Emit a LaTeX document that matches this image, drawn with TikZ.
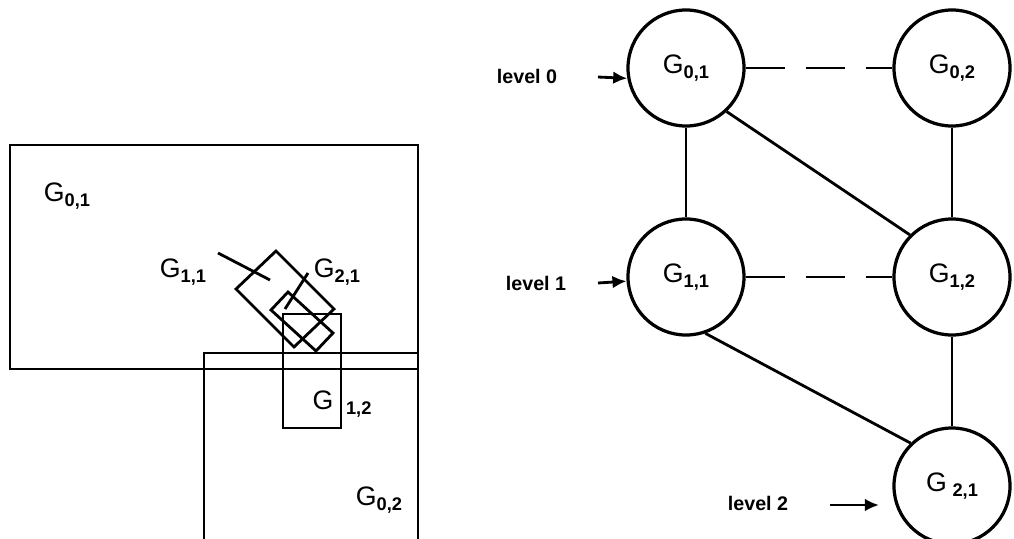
\documentclass[tikz,border=0pt]{standalone}
\usepackage{fontspec}
\setmainfont{Liberation Sans}
\usetikzlibrary{calc,shapes}
\usetikzlibrary{arrows}
\usetikzlibrary{arrows.meta}

\newcommand{\gname}[2][0pt]{{\fontsize{19}{21}\selectfont G}\hspace{#1}{\fontsize{13}{14}\selectfont\bfseries\raisebox{-0.45ex}{#2}}}

\tikzset{
  grp/.style={circle, draw, line width=2.3pt, minimum size=2.9cm, inner sep=0pt},
  edge/.style={line width=2pt},
  box/.style={line width=2pt, line join=miter},
  lvl/.style={font=\bfseries\fontsize{14}{15}\selectfont},
  arr/.style={-{Latex[length=10pt,width=9pt]}, line width=2pt}
}

\begin{document}
\begin{tikzpicture}[x=0.025cm, y=-0.025cm]
  \useasboundingbox (0,0) rectangle (1014,539);

  % regions of the plane
  \draw[box] (10,145) rectangle (418,369);
  \draw[box] (204,545) -- (204,353) -- (418,353) -- (418,545);
  \draw[box] (283,314) rectangle (341,428);
  \draw[box] (276,251) -- (334,309) -- (294,347) -- (236,289) -- cycle;
  \draw[box] (288,292) -- (333,333) -- (316,351) -- (271,310) -- cycle;

  \node (r01) at (67,196) {\gname{0,1}};
  \node (r11) at (183,272) {\gname{1,1}};
  \node (r21) at (337,272) {\gname{2,1}};
  \node (r12) at (342,404) {\gname[9pt]{1,2}};
  \node (r02) at (379,500) {\gname{0,2}};

  \coordinate (t11a) at (218,253);
  \coordinate (t11b) at (270,280);
  \coordinate (t21a) at (308,273);
  \coordinate (t21b) at (285,309);
  \draw[edge] (t11a) -- (t11b);
  \draw[edge] (t21a) -- (t21b);

  % hierarchy of groups
  \node[grp] (g01) at (686,68) {\gname{0,1}};
  \node[grp] (g02) at (952,68) {\gname{0,2}};
  \node[grp] (g11) at (686,277) {\gname{1,1}};
  \node[grp] (g12) at (952,277) {\gname{1,2}};
  \node[grp] (g21) at (952,486) {\gname[4pt]{2,1}};

  \foreach \i/\j in {
  g01/g11,
  g02/g12,
  g12/g21,
  g01.-47/g12.135,
  g11.-71/g21.134
  }{\draw[edge] (\i) -- (\j);}

  \foreach \i/\j in {g01/g02, g11/g12}
  {\draw[edge, dash pattern=on 27.7pt off 15pt] (\i.east) -- (\j.west);}

  \node[lvl] (lv0) at (527,76) {level 0};
  \node[lvl] (lv1) at (536,283) {level 1};
  \node[lvl] (lv2) at (758,503) {level 2};
  \coordinate (a0) at (598,77);
  \coordinate (a1) at (598,283);
  \coordinate (a2) at (830,505);
  \coordinate (b2) at (879,505);
  \draw[arr] (a0) -- (g01.190);
  \draw[arr] (a1) -- (g11.184);
  \draw[arr] (a2) -- (b2);
\end{tikzpicture}
\end{document}
